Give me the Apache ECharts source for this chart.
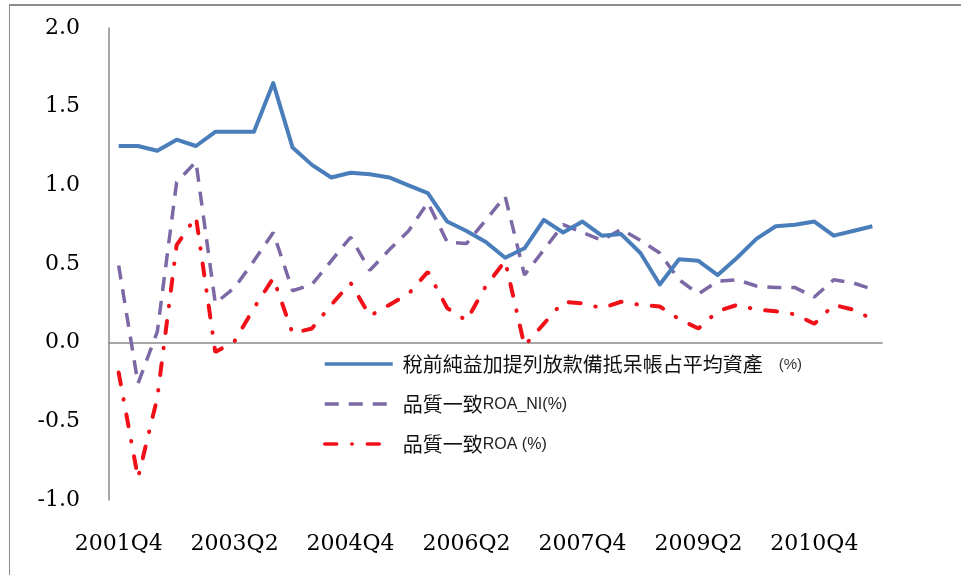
<!DOCTYPE html>
<html>
<head>
<meta charset="utf-8">
<script src="https://cdn.jsdelivr.net/npm/echarts@6/dist/echarts.min.js"></script>
<style>
  html, body { margin: 0; padding: 0; background: #fff; }
  #wrap { position: absolute; left: 0; top: 0; width: 961px; height: 575px; }
  #frame { position: absolute; left: 9px; top: 4px; width: 960px; height: 580px;
           border-left: 1px solid #8c8c8c; border-top: 2px solid #8c8c8c; }
  #chart { position: absolute; left: 0; top: 0; width: 961px; height: 575px; }
</style>
</head>
<body>
<div id="wrap">
  <div id="frame"></div>
  <div id="chart"></div>
</div>
<script>
// Quarterly categories
const quarters = [
  '2001Q4',
  '2002Q1','2002Q2','2002Q3','2002Q4',
  '2003Q1','2003Q2','2003Q3','2003Q4',
  '2004Q1','2004Q2','2004Q3','2004Q4',
  '2005Q1','2005Q2','2005Q3','2005Q4',
  '2006Q1','2006Q2','2006Q3','2006Q4',
  '2007Q1','2007Q2','2007Q3','2007Q4',
  '2008Q1','2008Q2','2008Q3','2008Q4',
  '2009Q1','2009Q2','2009Q3','2009Q4',
  '2010Q1','2010Q2','2010Q3','2010Q4',
  '2011Q1','2011Q2','2011Q3'
];

// Series names
const nameA = '稅前純益加提列放款備抵呆帳占平均資產 (%)';
const nameB = '品質一致ROA_NI(%)';
const nameC = '品質一致ROA (%)';

// Pre-tax income plus loan-loss provisions over average assets (%)
const preTaxPlusProvision = [
  1.25, 1.25, 1.22, 1.29, 1.25, 1.34, 1.34, 1.34, 1.65, 1.24,
  1.13, 1.05, 1.08, 1.07, 1.05, 1.00, 0.95, 0.77, 0.71, 0.64,
  0.54, 0.60, 0.78, 0.70, 0.77, 0.68, 0.69, 0.57, 0.37, 0.53,
  0.52, 0.43, 0.54, 0.66, 0.74, 0.75, 0.77, 0.68, 0.71, 0.74
];

// Quality-consistent ROA based on net income (%)
const roaNI = [
  0.49, -0.26, 0.07, 1.02, 1.15, 0.25, 0.35, 0.52, 0.70, 0.33,
  0.37, 0.52, 0.67, 0.46, 0.59, 0.71, 0.89, 0.64, 0.63, 0.78,
  0.93, 0.43, 0.59, 0.75, 0.70, 0.65, 0.72, 0.65, 0.57, 0.40,
  0.31, 0.39, 0.40, 0.36, 0.35, 0.35, 0.29, 0.40, 0.38, 0.34
];

// Quality-consistent ROA (%)
const roa = [
  -0.19, -0.86, -0.35, 0.62, 0.80, -0.06, 0.01, 0.22, 0.41, 0.06,
  0.09, 0.24, 0.38, 0.17, 0.24, 0.31, 0.45, 0.22, 0.14, 0.36,
  0.52, -0.02, 0.12, 0.26, 0.25, 0.22, 0.26, 0.24, 0.23, 0.15,
  0.09, 0.20, 0.24, 0.21, 0.20, 0.18, 0.12, 0.24, 0.21, 0.15
];

// Value axis ticks
const yMin = -1.0, yMax = 2.0, yStep = 0.5;

const serifFont = '"DejaVu Serif", "Liberation Serif", serif';
const cjkFont = '"Noto Sans CJK TC", "Noto Sans CJK SC", sans-serif';
const latinFont = '"Liberation Sans", Arial, sans-serif';

const chart = echarts.init(document.getElementById('chart'), null, { renderer: 'canvas' });

chart.setOption({
  backgroundColor: 'transparent',
  animation: false,
  grid: { left: 109, right: 79, top: 28, bottom: 75, containLabel: false },
  legend: {
    orient: 'vertical',
    left: 318,
    top: 349,
    itemWidth: 68,
    itemHeight: 20,
    itemGap: 20,
    itemStyle: { opacity: 0 },
    lineStyle: { width: 3.5 },
    data: [nameA, nameB, nameC],
    formatter: function (n) {
      if (n === nameA) return '{c|稅前純益加提列放款備抵呆帳占平均資產}{p|(%)}';
      if (n === nameB) return '{c|品質一致}{l|ROA_NI(%)}';
      return '{c|品質一致}{l|ROA (%)}';
    },
    textStyle: {
      rich: {
        c: { fontFamily: cjkFont, fontSize: 20, color: '#111', padding: [0, 0, 0, 5] },
        p: { fontFamily: latinFont, fontSize: 15, color: '#333', padding: [2, 0, 0, 16] },
        l: { fontFamily: latinFont, fontSize: 16, color: '#222', padding: [2, 0, 0, 0] }
      }
    }
  },
  xAxis: [
    {
      type: 'category',
      data: quarters,
      position: 'bottom',
      boundaryGap: true,
      axisLine: { show: false, onZero: false },
      axisTick: { show: false },
      axisLabel: {
        interval: 5,
        margin: 33,
        fontFamily: serifFont,
        fontSize: 22,
        color: '#000'
      },
      splitLine: { show: false }
    },
    {
      type: 'category',
      data: quarters,
      position: 'top',
      boundaryGap: true,
      axisLine: { show: true, onZero: true, lineStyle: { color: '#8a8a8a', width: 1.5 } },
      axisTick: { show: false },
      axisLabel: { show: false },
      splitLine: { show: false }
    }
  ],
  yAxis: {
    type: 'value',
    min: yMin,
    max: yMax,
    interval: yStep,
    axisLine: { show: true, lineStyle: { color: '#8a8a8a', width: 1.5 } },
    axisTick: { show: false },
    splitLine: { show: false },
    axisLabel: {
      margin: 29,
      fontFamily: serifFont,
      fontSize: 22,
      color: '#000',
      formatter: function (v) { return v.toFixed(1); }
    }
  },
  series: [
    {
      name: nameA,
      type: 'line',
      data: preTaxPlusProvision,
      symbol: 'none',
      lineStyle: { color: '#4a7ebb', width: 4, join: 'round' },
      itemStyle: { color: '#4a7ebb' },
      z: 3
    },
    {
      name: nameB,
      type: 'line',
      data: roaNI,
      symbol: 'none',
      lineStyle: { color: '#7d68a6', width: 3.5, type: [14, 10], cap: 'butt' },
      itemStyle: { color: '#7d68a6' },
      z: 2
    },
    {
      name: nameC,
      type: 'line',
      data: roa,
      symbol: 'none',
      lineStyle: { color: '#f01018', width: 4, type: [12, 15, 0.5, 15], cap: 'round' },
      itemStyle: { color: '#f01018' },
      z: 2
    }
  ]
});
</script>
</body>
</html>
